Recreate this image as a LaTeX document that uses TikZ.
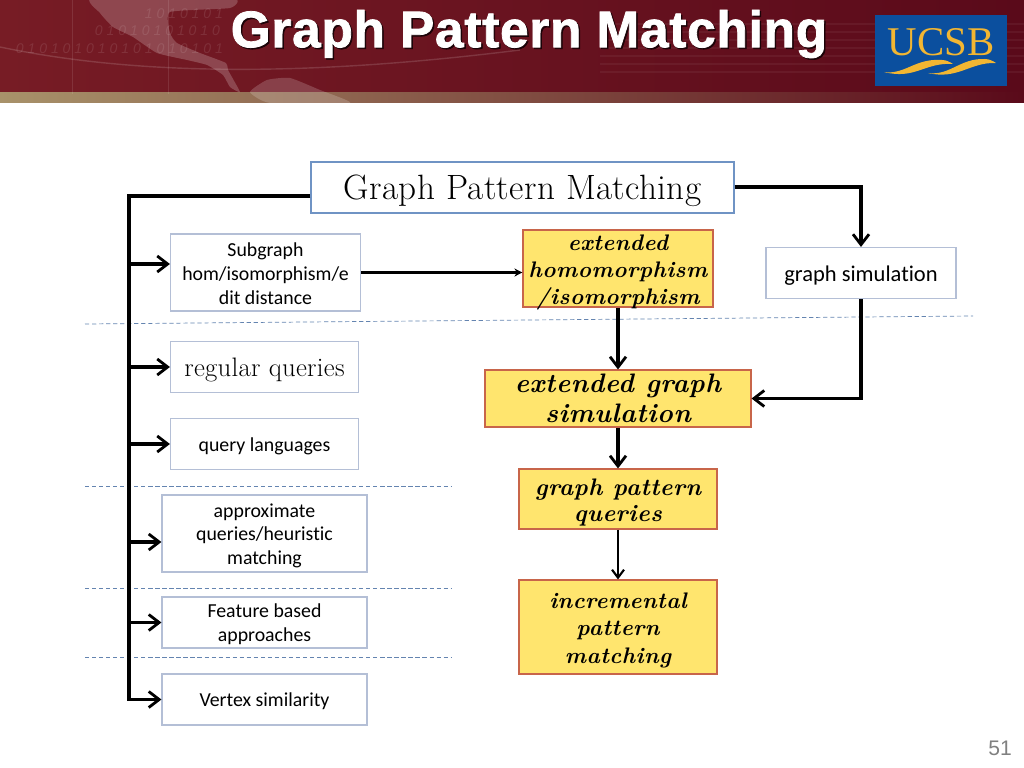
\documentclass[tikz,border=0pt]{standalone}
\usepackage{fontspec}
\usepackage{xcolor}
\usepackage{tikz}
\usetikzlibrary{arrows.meta,positioning,calc}
\newfontfamily\bodyfont[Ligatures=NoCommon]{Carlito}
\newfontfamily\titlefont{Liberation Sans}
\newfontfamily\logofont{Liberation Serif}
\newfontfamily\cmfont{Latin Modern Roman}
\definecolor{hdrdark}{HTML}{5A0A1A}
\definecolor{hdrmid}{HTML}{771C25}
\definecolor{hdrtan}{HTML}{A8926A}
\definecolor{logoblue}{HTML}{0B4F9E}
\definecolor{logogold}{HTML}{F2B632}
\definecolor{fillyel}{HTML}{FFE56E}
\definecolor{edgered}{HTML}{C8654A}
\definecolor{edgeblue}{HTML}{6F93C4}
\definecolor{edgegrey}{HTML}{B4BFD6}

\begin{document}
\begin{tikzpicture}[
  x=0.025cm, y=-0.025cm,
  drop/.style={execute at begin node=\rule{0pt}{#1}},
  box/.style={draw=edgegrey, line width=0.8pt, fill=white, align=center, inner sep=0pt, font=\bodyfont\fontsize{14.1}{17}\selectfont, drop=12.8pt},
  rootbox/.style={draw=edgeblue, line width=1pt, fill=white, inner sep=0pt, font=\cmfont\fontsize{25}{29}\selectfont\addfontfeature{LetterSpace=1}, drop=21.7pt},
  querybox/.style={box, font=\cmfont\fontsize{19}{22}\selectfont\addfontfeature{LetterSpace=1}, drop=18pt},
  hot/.style={draw=edgered, line width=0.8pt, fill=fillyel, align=center, inner sep=0pt, font=\cmfont\fontsize{16}{19.4}\selectfont\bfseries\itshape\addfontfeature{LetterSpace=2}},
  arr/.style={-{Straight Barb[length=2.6mm,width=4mm,line width=2pt]}, line width=2.2pt, black},
  thinarr/.style={-{Straight Barb[length=2mm,width=3mm,line width=1.5pt]}, line width=1.5pt, black},
  divider/.style={densely dashed, line width=0.5pt, edgeblue!90!black}
]
\useasboundingbox (0,0) rectangle (1024,768);
% banner
\shade[left color=hdrmid, right color=hdrdark] (0,0) rectangle (1024,94);
\shade[left color=hdrtan, middle color=hdrtan!60!hdrdark, right color=hdrdark] (0,93) rectangle (1024,103);
\fill[white, opacity=0.2] plot[smooth cycle, tension=0.3] coordinates {(93,-2) (100,13) (113,27) (133,37) (157,53) (187,60) (207,65) (223,75) (230,87) (240,92) (228,70) (226,63) (200,53) (177,43) (170,33) (170,12) (230,8) (232,-2)};
\fill[white, opacity=0.18] plot[smooth cycle, tension=0.3] coordinates {(250,92) (267,80) (290,78) (320,90) (350,103) (270,103)};
\draw[white, opacity=0.14, line width=1pt] (0,47) .. controls (120,72) and (280,80) .. (520,50);
\draw[white, opacity=0.10, line width=0.7pt] (72,0) -- (72,94);
\draw[white, opacity=0.10, line width=0.7pt] (168,0) -- (168,94);
\foreach \y in {24,32,40,48,56,64,72} \draw[white, opacity=0.05, line width=1pt] (600,\y) -- (1024,\y);
\node[text=white, opacity=0.1, font=\titlefont\itshape\fontsize{10}{10}\selectfont, anchor=east] (bitsa) at (228,14) {1 0 1 0 1 0 1};
\node[text=white, opacity=0.1, font=\titlefont\itshape\fontsize{10}{10}\selectfont, anchor=east] (bitsb) at (225,31) {0 1 0 1 0 1 0 1 0 1 0};
\node[text=white, opacity=0.1, font=\titlefont\itshape\fontsize{10}{10}\selectfont, anchor=east] (bitsc) at (228,49) {0 1 0 1 0 1 0 1 0 1 0 1 0 1 0 1 0 1};
\node[text=black!70!hdrdark, font=\titlefont\bfseries\fontsize{36.5}{36.5}\selectfont\addfontfeature{FakeBold=1.5,LetterSpace=1.5}] (shadow) at (530.5,35.5) {Graph Pattern Matching};
\node[text=white, font=\titlefont\bfseries\fontsize{36.5}{36.5}\selectfont\addfontfeature{FakeBold=1.5,LetterSpace=1.5}] (title) at (529,34) {Graph Pattern Matching};
% logo
\node[fill=logoblue, minimum width=132*0.025cm, minimum height=71*0.025cm, inner sep=0pt] (logo) at (941,50.5) {};
\node[text=logogold, font=\logofont\fontsize{29}{29}\selectfont] (ucsb) at (941,42) {UCSB};
\fill[logogold] (884,72) .. controls (905,75) and (915,58) .. (942,60) .. controls (946,60) and (950,62) .. (953,64) .. controls (925,62) and (915,80) .. (884,72) -- cycle;
\fill[logogold] (928,73) .. controls (950,76) and (960,58) .. (985,59) .. controls (989,59) and (993,61) .. (996,63) .. controls (970,62) and (958,80) .. (928,73) -- cycle;

\foreach \a/\b/\c/\d in {85/324/973/316, 85/486/452/486, 85/588/452/588, 85/657/452/657}
  \draw[divider] (\a,\b) -- (\c,\d);

% boxes
\node[rootbox, minimum width=423*0.025cm, minimum height=51*0.025cm] (root) at (522.5,187.5) {Graph Pattern Matching};
\node[box, drop=45.4pt, minimum width=190*0.025cm, minimum height=77*0.025cm] (sub) at (265.5,272.5) {Subgraph\\hom/isomorphism/e\\dit distance};
\node[querybox, minimum width=188*0.025cm, minimum height=51*0.025cm] (reg) at (264.5,367) {regular queries};
\node[box, minimum width=188*0.025cm, minimum height=51*0.025cm] (lang) at (264.5,444) {query languages};
\node[box, drop=47pt, minimum width=205*0.025cm, minimum height=77*0.025cm] (approx) at (264.5,533.5) {approximate\\queries/heuristic\\matching};
\node[box, drop=29.8pt, minimum width=205*0.025cm, minimum height=51*0.025cm] (feat) at (264.5,622.5) {Feature based\\approaches};
\node[box, minimum width=205*0.025cm, minimum height=51*0.025cm] (vert) at (264.5,699.5) {Vertex similarity};
\node[hot, drop=55.4pt, inner ysep=-5pt, minimum width=190*0.025cm, minimum height=77*0.025cm] (hom) at (618,268.5) {extended\\homomorphism\\/isomorphism};
\node[box, drop=14.2pt, minimum width=190*0.025cm, minimum height=51*0.025cm, font=\bodyfont\fontsize{16}{18}\selectfont] (sim) at (861,273) {graph simulation};
\node[hot, minimum width=266*0.025cm, minimum height=57*0.025cm, font=\cmfont\fontsize{19}{21}\selectfont\bfseries\itshape\addfontfeature{LetterSpace=2}] (egs) at (618,398.5) {extended graph\\simulation};
\node[hot, drop=35.3pt, minimum width=198*0.025cm, minimum height=60*0.025cm, font=\cmfont\fontsize{17}{18.5}\selectfont\bfseries\itshape\addfontfeature{LetterSpace=2}] (gpq) at (618,499) {graph pattern\\queries};
\node[hot, drop=54.8pt, minimum width=198*0.025cm, minimum height=94*0.025cm] (inc) at (618,627) {incremental\\pattern\\matching};

% trunk on the left
\coordinate (rl) at (root.west |- 0,196);
\coordinate (t0) at (129,196);
\coordinate (sa) at (sub.west |- 0,264);
\coordinate (aa) at (approx.west |- 0,542);
\coordinate (rr) at (root.east |- 0,187);
\draw[arr] (rl) -- (t0) |- (vert.west);
\foreach \t in {sa,reg.west,lang.west,aa,feat.west}
  \draw[arr] (t0 |- \t) -- (\t);

\draw[thinarr, -{Stealth[length=2mm,width=2mm]}] (sub.east) -- (sub.east -| hom.west);
\draw[arr] (rr) -| (sim.north);
\draw[arr] (sim.south) |- (egs.east);
\draw[arr] (hom.south) -- (egs.north);
\draw[arr] (egs.south) -- (gpq.north);
\draw[thinarr] (gpq.south) -- (inc.north);

\node[text=black!50, font=\titlefont\fontsize{15}{15}\selectfont] (num) at (1000,748) {51};
\end{tikzpicture}
\end{document}
